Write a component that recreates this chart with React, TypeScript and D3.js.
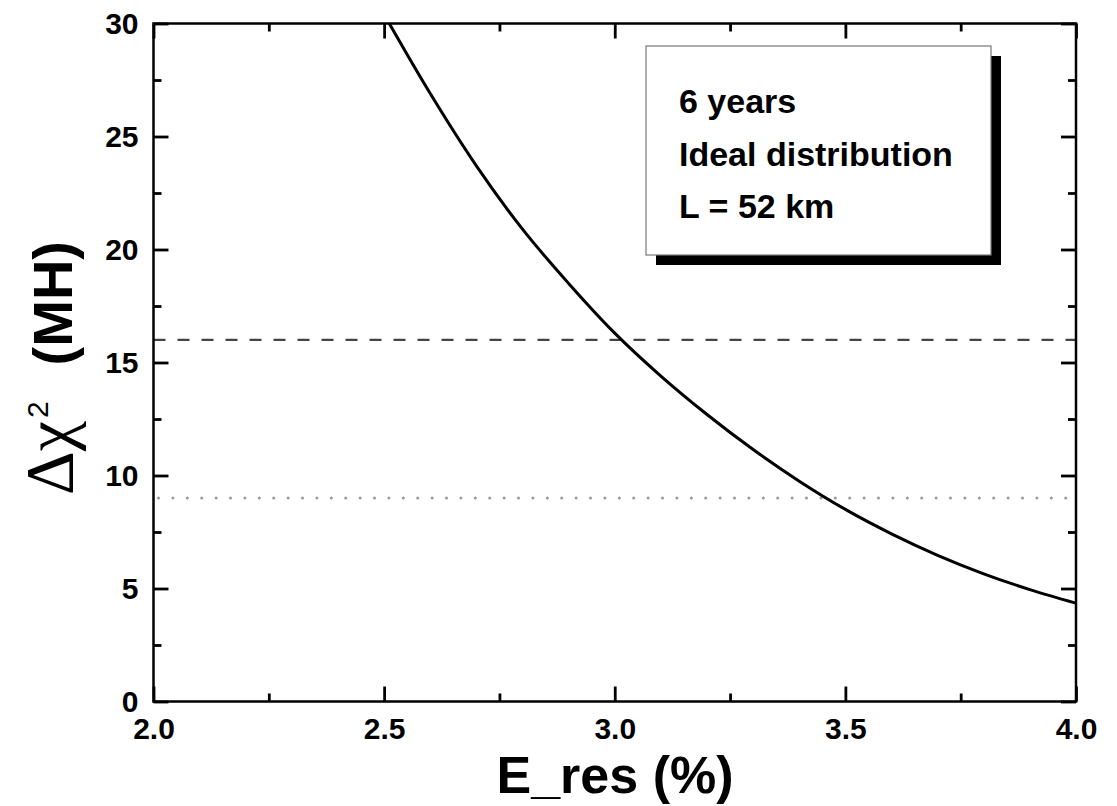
import { useEffect, useRef } from 'react';
import * as d3 from "d3";

// E_res (%) values and Δχ² (MH)
const eRes = [2.5, 2.6, 2.7, 2.8, 2.9, 3.0, 3.1, 3.2, 3.3, 3.4, 3.5, 3.6, 3.7, 3.8, 3.9, 4.0];
const deltaChi2 = [30.4, 26.9, 23.7, 20.9, 18.5, 16.3, 14.4, 12.7, 11.15, 9.75, 8.5, 7.42, 6.47, 5.65, 4.95, 4.35];

// reference levels
const level4sigma = 16;
const level3sigma = 9;

const xMajor = [2.0, 2.5, 3.0, 3.5, 4.0];
const xMinor = [2.25, 2.75, 3.25, 3.75];
const yMajor = [0, 5, 10, 15, 20, 25, 30];
const yMinor = [2.5, 7.5, 12.5, 17.5, 22.5, 27.5];

const legendLines = ["6 years", "Ideal distribution", "L = 52 km"];

export default function App() {
  const chartRef = useRef<SVGSVGElement>(null);

  useEffect(() => {
    if (!chartRef.current) return;
    d3.select(chartRef.current).selectAll("*").remove();

    const width = 1117;
    const height = 806;
    const marginLeft = 153.5;
    const marginRight = 41;
    const marginTop = 23.5;
    const marginBottom = 104.5;
    const font = "'Liberation Sans', Arial, sans-serif";

    const x = d3.scaleLinear().domain([2, 4]).range([marginLeft, width - marginRight]);
    const y = d3.scaleLinear().domain([0, 30]).range([height - marginBottom, marginTop]);

    const svg = d3.select(chartRef.current)
      .attr("width", width)
      .attr("height", height)
      .attr("viewBox", [0, 0, width, height])
      .style("background", "white");

    svg.append("defs").append("clipPath")
      .attr("id", "plot-clip")
      .append("rect")
      .attr("x", marginLeft)
      .attr("y", marginTop)
      .attr("width", width - marginRight - marginLeft)
      .attr("height", height - marginBottom - marginTop);

    // Reference lines
    svg.append("line")
      .attr("x1", x(2)).attr("x2", x(4))
      .attr("y1", y(level4sigma)).attr("y2", y(level4sigma))
      .attr("stroke", "#444")
      .attr("stroke-width", 2.4)
      .attr("stroke-dasharray", "12 12");

    svg.append("line")
      .attr("x1", x(2) + 5).attr("x2", x(4))
      .attr("y1", y(level3sigma)).attr("y2", y(level3sigma))
      .attr("stroke", "#999")
      .attr("stroke-width", 3)
      .attr("stroke-linecap", "round")
      .attr("stroke-dasharray", "0 14.4");

    // Curve
    const line = d3.line<number>()
      .x((d, i) => x(eRes[i]))
      .y(d => y(d))
      .curve(d3.curveMonotoneX);

    svg.append("path")
      .datum(deltaChi2)
      .attr("clip-path", "url(#plot-clip)")
      .attr("fill", "none")
      .attr("stroke", "black")
      .attr("stroke-width", 3)
      .attr("d", line);

    // Axes (ticks pointing inward on all four sides)
    const styleAxis = (g: any) => {
      g.select(".domain").remove();
      g.selectAll(".tick line").attr("stroke", "black").attr("stroke-width", 2.8);
    };

    svg.append("g")
      .attr("transform", `translate(0,${y(0)})`)
      .call(d3.axisBottom(x).tickValues(xMajor).tickSize(-15).tickPadding(16).tickFormat(d3.format(".1f")))
      .call(styleAxis)
      .call(g => g.selectAll("text")
        .attr("fill", "black")
        .style("font-family", font)
        .style("font-weight", "bold")
        .style("font-size", "30px"));

    svg.append("g")
      .attr("transform", `translate(0,${y(0)})`)
      .call(d3.axisBottom(x).tickValues(xMinor).tickSize(-8).tickFormat(() => ""))
      .call(styleAxis);

    svg.append("g")
      .attr("transform", `translate(0,${y(30)})`)
      .call(d3.axisTop(x).tickValues(xMajor).tickSize(-15).tickFormat(() => ""))
      .call(styleAxis);

    svg.append("g")
      .attr("transform", `translate(0,${y(30)})`)
      .call(d3.axisTop(x).tickValues(xMinor).tickSize(-8).tickFormat(() => ""))
      .call(styleAxis);

    svg.append("g")
      .attr("transform", `translate(${x(2)},0)`)
      .call(d3.axisLeft(y).tickValues(yMajor).tickSize(-15).tickPadding(15))
      .call(styleAxis)
      .call(g => g.selectAll("text")
        .attr("fill", "black")
        .style("font-family", font)
        .style("font-weight", "bold")
        .style("font-size", "30px"));

    svg.append("g")
      .attr("transform", `translate(${x(2)},0)`)
      .call(d3.axisLeft(y).tickValues(yMinor).tickSize(-8).tickFormat(() => ""))
      .call(styleAxis);

    svg.append("g")
      .attr("transform", `translate(${x(4)},0)`)
      .call(d3.axisRight(y).tickValues(yMajor).tickSize(-15).tickFormat(() => ""))
      .call(styleAxis);

    svg.append("g")
      .attr("transform", `translate(${x(4)},0)`)
      .call(d3.axisRight(y).tickValues(yMinor).tickSize(-8).tickFormat(() => ""))
      .call(styleAxis);

    // Frame
    svg.append("rect")
      .attr("x", x(2))
      .attr("y", y(30))
      .attr("width", x(4) - x(2))
      .attr("height", y(0) - y(30))
      .attr("fill", "none")
      .attr("stroke", "black")
      .attr("stroke-width", 2.5);

    // Legend box with drop shadow
    const box = { x: 646, y: 46, w: 345, h: 209, off: 10 };
    svg.append("rect")
      .attr("x", box.x + box.off).attr("y", box.y + box.off)
      .attr("width", box.w).attr("height", box.h)
      .attr("fill", "black");
    svg.append("rect")
      .attr("x", box.x).attr("y", box.y)
      .attr("width", box.w).attr("height", box.h)
      .attr("fill", "white")
      .attr("stroke", "#777")
      .attr("stroke-width", 1.2);

    svg.append("g")
      .selectAll("text")
      .data(legendLines)
      .join("text")
      .attr("x", 679)
      .attr("y", (d, i) => 113 + i * 52.5)
      .style("font-family", font)
      .style("font-weight", "bold")
      .style("font-size", "34px")
      .text(d => d);

    // X title
    svg.append("text")
      .attr("x", 615)
      .attr("y", 793)
      .attr("text-anchor", "middle")
      .style("font-family", font)
      .style("font-weight", "bold")
      .style("font-size", "52px")
      .text("E_res (%)");

    // Y title
    const yTitle = svg.append("text")
      .attr("transform", "translate(72,368) rotate(-90)")
      .attr("text-anchor", "middle")
      .style("font-family", font)
      .style("font-size", "56px");
    yTitle.append("tspan")
      .style("font-family", "'Liberation Serif', serif")
      .style("font-size", "68px")
      .text("Δχ");
    yTitle.append("tspan")
      .attr("dx", 3)
      .attr("dy", -24)
      .style("font-size", "30px")
      .text("2");
    yTitle.append("tspan")
      .attr("dy", 24)
      .attr("dx", 36)
      .style("font-weight", "bold")
      .text("(MH)");
  }, []);

  return (
    <div style={{ position: "absolute", left: 0, top: 0 }}>
      <svg ref={chartRef}></svg>
    </div>
  );
}
